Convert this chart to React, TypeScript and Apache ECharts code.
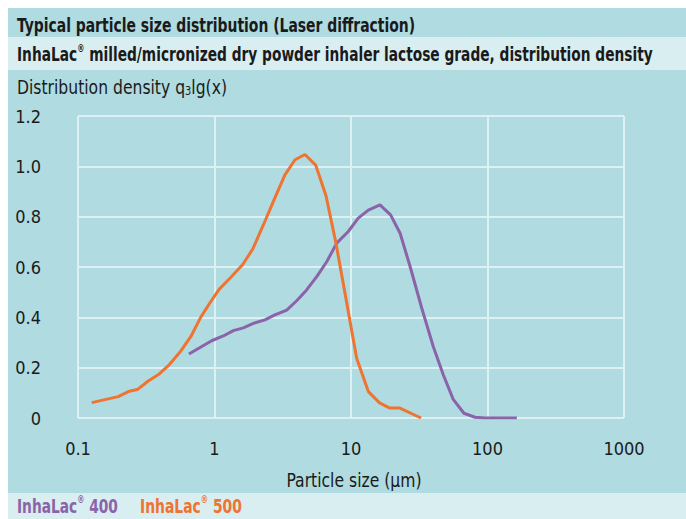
import React, { useEffect, useRef } from "react";
import * as echarts from "echarts";

const title1 = "Typical particle size distribution (Laser diffraction)";
const title2Brand = "InhaLac";
const title2Rest = " milled/micronized dry powder inhaler lactose grade, distribution density";
const yAxisTitleA = "Distribution density q";
const yAxisTitleSub = "3";
const yAxisTitleB = "lg(x)";
const xAxisTitle = "Particle size (µm)";

const seriesNames = ["InhaLac® 400", "InhaLac® 500"];
const legendNumbers = ["400", "500"];

const xTicks = [0.1, 1, 10, 100, 1000];
const yTicks = [0, 0.2, 0.4, 0.6, 0.8, 1.0, 1.2];

// InhaLac 400 (purple)
const sizes400 = [0.65, 0.953, 1.16, 1.375, 1.626, 1.925, 2.34, 2.77, 3.38, 4.0, 4.73, 5.61, 6.64, 7.86, 9.55, 11.3, 13.4, 16.3, 19.5, 22.9, 27.1, 33.0, 40.1, 47.5, 56.1, 67.2, 81, 95.6, 164];
const density400 = [0.254, 0.307, 0.326, 0.347, 0.358, 0.376, 0.39, 0.41, 0.429, 0.466, 0.509, 0.562, 0.621, 0.695, 0.741, 0.794, 0.826, 0.847, 0.807, 0.734, 0.602, 0.436, 0.283, 0.171, 0.074, 0.019, 0.003, 0, 0];

// InhaLac 500 (orange)
const sizes500 = [0.126, 0.197, 0.234, 0.272, 0.327, 0.394, 0.459, 0.559, 0.67, 0.792, 0.927, 1.084, 1.314, 1.61, 1.905, 2.28, 2.73, 3.28, 3.89, 4.6, 5.51, 6.56, 7.76, 9.5, 11.0, 13.4, 16.2, 19.1, 22.6, 32.6];
const density500 = [0.061, 0.085, 0.105, 0.113, 0.147, 0.175, 0.208, 0.262, 0.323, 0.4, 0.458, 0.512, 0.558, 0.61, 0.671, 0.767, 0.867, 0.966, 1.026, 1.047, 1.005, 0.883, 0.695, 0.43, 0.237, 0.105, 0.06, 0.04, 0.04, 0.0];

const FONT = '"DejaVu Sans Condensed", "DejaVu Sans", sans-serif';
const DARK = "#b0dbe0";
const LIGHT = "#d8eef1";
const GRID = "#ddf0f3";
const TEXT = "#1a1a1a";
const PURPLE = "#8b63a9";
const ORANGE = "#ef7331";
const FS = 19;

export default function App() {
  const ref = useRef<HTMLDivElement>(null);
  useEffect(() => {
    document.body.style.margin = "0";
    document.body.style.overflow = "hidden";
    const ctx = document.createElement("canvas").getContext("2d")!;
    const measure = (parts: [string, number, string][]) =>
      parts.reduce((w, [t, size, weight]) => {
        ctx.font = `${weight} ${size}px ${FONT}`;
        return w + ctx.measureText(t).width;
      }, 0);
    const fit = (parts: [string, number, string][], target: number) => target / measure(parts);

    const chart = echarts.init(ref.current!, null, { renderer: "svg" });
    const pairs = (xs: number[], ys: number[]) => xs.map((x, i) => [x, ys[i]]);

    const brandRich = (color: string, weight: string) => ({
      b: { fontFamily: FONT, fontSize: FS, fontWeight: weight, fill: color, lineHeight: 22 },
      r: { fontFamily: FONT, fontSize: 10, fontWeight: weight, fill: color, lineHeight: 10, verticalAlign: "top" },
    });

    const legendText = (i: number, color: string, x: number, target: number) => ({
      type: "text",
      x,
      y: 506,
      scaleX: fit([["InhaLac", FS, "bold"], ["®", 10, "bold"], [" " + legendNumbers[i], FS, "bold"]], target),
      style: {
        text: `{b|InhaLac}{r|®}{b| ${legendNumbers[i]}}`,
        verticalAlign: "middle",
        rich: brandRich(color, "bold"),
      },
    });

    chart.setOption({
      animation: false,
      backgroundColor: "#ffffff",
      graphic: [
        { type: "rect", shape: { x: 8, y: 8, width: 678, height: 29 }, style: { fill: DARK }, z: -10 },
        { type: "rect", shape: { x: 8, y: 37, width: 678, height: 33 }, style: { fill: LIGHT }, z: -10 },
        { type: "rect", shape: { x: 8, y: 70, width: 678, height: 423 }, style: { fill: DARK }, z: -10 },
        { type: "rect", shape: { x: 8, y: 493, width: 678, height: 26 }, style: { fill: LIGHT }, z: -10 },
        {
          type: "text",
          x: 17,
          y: 25,
          scaleX: fit([[title1, FS, "bold"]], 398),
          style: { text: title1, fontFamily: FONT, fontSize: FS, fontWeight: "bold", fill: TEXT, verticalAlign: "middle" },
        },
        {
          type: "text",
          x: 17,
          y: 54.5,
          scaleX: fit([[title2Brand, FS, "bold"], ["®", 10, "bold"], [title2Rest, FS, "bold"]], 636),
          style: {
            text: `{b|${title2Brand}}{r|®}{b|${title2Rest}}`,
            verticalAlign: "middle",
            rich: brandRich(TEXT, "bold"),
          },
        },
        {
          type: "text",
          x: 17,
          y: 85,
          scaleX: fit([[yAxisTitleA, FS, "normal"], [yAxisTitleSub, 12, "normal"], [yAxisTitleB, FS, "normal"]], 210),
          style: {
            text: `{a|${yAxisTitleA}}{s|${yAxisTitleSub}}{a|${yAxisTitleB}}`,
            verticalAlign: "middle",
            rich: {
              a: { fontFamily: FONT, fontSize: FS, fill: TEXT, lineHeight: 24, verticalAlign: "bottom" },
              s: { fontFamily: FONT, fontSize: 12, fill: TEXT, lineHeight: 14, verticalAlign: "bottom" },
            },
          },
        },
        {
          type: "text",
          x: 354,
          y: 480,
          scaleX: fit([[xAxisTitle, FS, "normal"]], 135),
          style: { text: xAxisTitle, fontFamily: FONT, fontSize: FS, fill: TEXT, align: "center", verticalAlign: "middle" },
        },
        legendText(0, PURPLE, 17, 101),
        legendText(1, ORANGE, 140, 102),
      ],
      grid: { left: 78, right: 62, top: 116, bottom: 101 },
      xAxis: {
        type: "log",
        logBase: 10,
        min: xTicks[0],
        max: xTicks[xTicks.length - 1],
        axisLine: { show: false },
        axisTick: { show: false },
        splitLine: { show: true, lineStyle: { color: GRID, width: 2 } },
        axisLabel: {
          margin: 21,
          fontFamily: FONT,
          fontSize: 18,
          color: TEXT,
          formatter: (v: number) => (v < 1 ? v.toFixed(1) : String(Math.round(v))),
        },
      },
      yAxis: {
        type: "value",
        min: yTicks[0],
        max: yTicks[yTicks.length - 1],
        interval: 0.2,
        axisLine: { show: false },
        axisTick: { show: false },
        splitLine: { show: true, lineStyle: { color: GRID, width: 2 } },
        axisLabel: {
          margin: 37,
          fontFamily: FONT,
          fontSize: 18,
          color: TEXT,
          formatter: (v: number) => (v === 0 ? "0" : v.toFixed(1)),
        },
      },
      series: [
        {
          name: seriesNames[0],
          type: "line",
          data: pairs(sizes400, density400),
          showSymbol: false,
          symbol: "none",
          lineStyle: { color: PURPLE, width: 3 },
          itemStyle: { color: PURPLE },
        },
        {
          name: seriesNames[1],
          type: "line",
          data: pairs(sizes500, density500),
          showSymbol: false,
          symbol: "none",
          lineStyle: { color: ORANGE, width: 3 },
          itemStyle: { color: ORANGE },
        },
      ],
    });
    return () => chart.dispose();
  }, []);
  return <div ref={ref} style={{ width: 686, height: 519 }} />;
}
